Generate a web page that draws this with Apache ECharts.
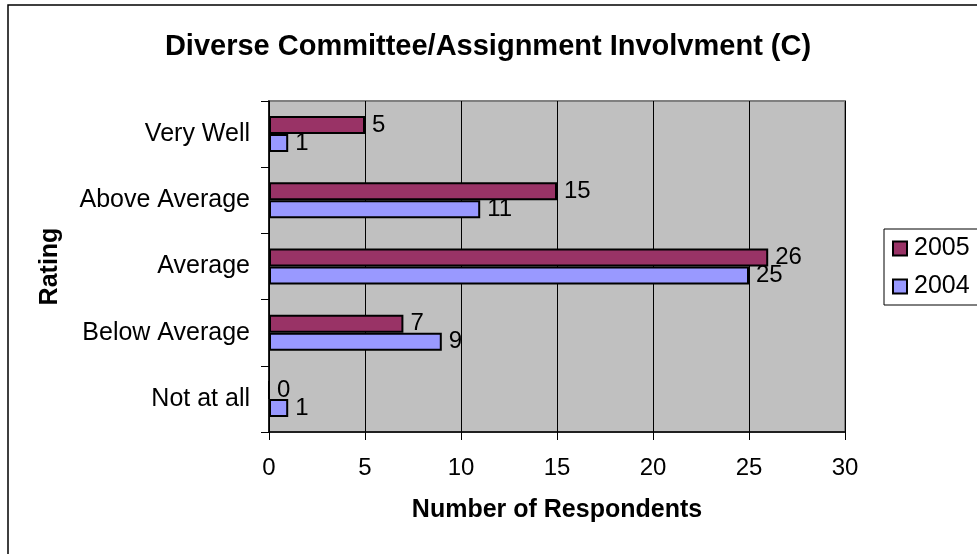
<!DOCTYPE html>
<html>
<head>
<meta charset="utf-8">
<title>Diverse Committee/Assignment Involvment (C)</title>
<script src="https://cdn.jsdelivr.net/npm/echarts@6/dist/echarts.min.js"></script>
<style>
  html, body { margin: 0; padding: 0; background: #ffffff; }
  #chart { width: 977px; height: 554px; }
</style>
</head>
<body>
<div id="chart"></div>
<script>
// Rating categories, listed top to bottom
var categories = ['Very Well', 'Above Average', 'Average', 'Below Average', 'Not at all'];
// Respondent counts per rating
var values2005 = [5, 15, 26, 7, 0];
var values2004 = [1, 11, 25, 9, 1];
var xTicks = [0, 5, 10, 15, 20, 25, 30];

var FONT = '"Liberation Sans", Arial, sans-serif';

var chart = echarts.init(document.getElementById('chart'), null, { renderer: 'canvas' });

var labelStyle = {
  show: true,
  position: 'right',
  distance: 7,
  color: '#000',
  fontSize: 24,
  fontFamily: FONT
};

chart.setOption({
  animation: false,
  backgroundColor: '#ffffff',
  title: {
    text: 'Diverse Committee/Assignment Involvment (C)',
    left: 483,
    top: 27,
    textAlign: 'center',
    textStyle: { fontSize: 29, fontWeight: 'bold', color: '#000', fontFamily: FONT }
  },
  graphic: [{
    type: 'rect',
    shape: { x: 8, y: 5, width: 1000, height: 600 },
    style: { fill: 'none', stroke: '#000', lineWidth: 1.5 },
    silent: true,
    z: 100
  }],
  legend: {
    orient: 'vertical',
    left: 884,
    top: 229,
    padding: [7, 40, 6, 8],
    itemGap: 13,
    itemWidth: 14,
    itemHeight: 14,
    icon: 'rect',
    borderColor: '#000',
    borderWidth: 1,
    data: ['2005', '2004'],
    textStyle: { fontSize: 25, color: '#000', fontFamily: FONT, padding: [0, 0, 0, 2] }
  },
  grid: {
    left: 269,
    right: 132,
    top: 101,
    bottom: 122,
    show: true,
    backgroundColor: '#C0C0C0',
    borderColor: '#808080',
    borderWidth: 2
  },
  xAxis: {
    type: 'value',
    min: 0,
    max: 30,
    interval: 5,
    name: 'Number of Respondents',
    nameLocation: 'middle',
    nameGap: 66,
    nameTextStyle: { fontSize: 25, fontWeight: 'bold', color: '#000', fontFamily: FONT },
    axisLine: { show: true, lineStyle: { color: '#000', width: 1.5 } },
    axisTick: { show: true, length: 8, lineStyle: { color: '#000' } },
    axisLabel: {
      margin: 24,
      fontSize: 24,
      color: '#000',
      fontFamily: FONT,
      formatter: function (v) { return xTicks.indexOf(v) >= 0 ? String(v) : ''; }
    },
    splitLine: { show: true, lineStyle: { color: '#000', width: 1 } }
  },
  yAxis: {
    type: 'category',
    data: categories,
    inverse: true,
    name: 'Rating',
    nameLocation: 'middle',
    nameRotate: 90,
    nameGap: 206,
    nameTextStyle: { fontSize: 25, fontWeight: 'bold', color: '#000', fontFamily: FONT },
    axisLine: { show: true, lineStyle: { color: '#000', width: 1.5 } },
    axisTick: { show: true, length: 8, lineStyle: { color: '#000' } },
    axisLabel: { margin: 19, fontSize: 25, color: '#000', fontFamily: FONT },
    splitLine: { show: false }
  },
  series: [
    {
      name: '2005',
      type: 'bar',
      data: values2005,
      barWidth: 18,
      barGap: '0%',
      itemStyle: { color: '#993366', borderColor: '#000', borderWidth: 2 },
      label: labelStyle
    },
    {
      name: '2004',
      type: 'bar',
      data: values2004,
      barWidth: 18,
      barGap: '0%',
      itemStyle: { color: '#9999FF', borderColor: '#000', borderWidth: 2 },
      label: labelStyle
    }
  ]
});
</script>
</body>
</html>
